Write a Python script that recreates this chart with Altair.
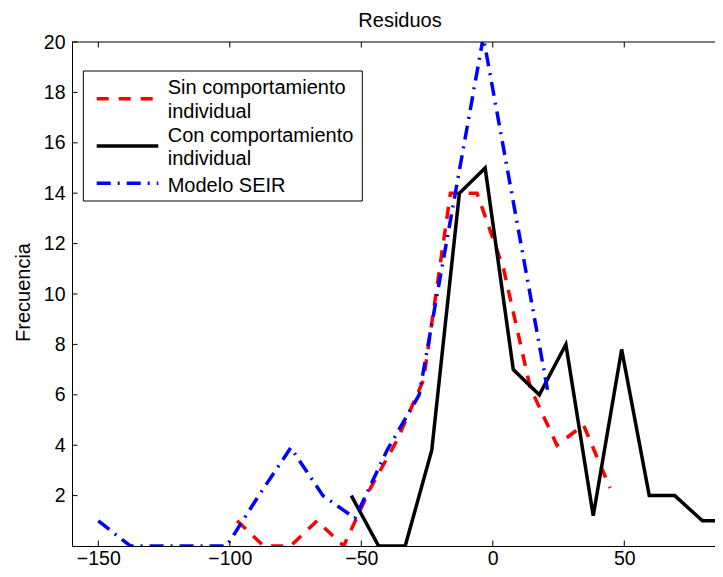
import altair as alt
import pandas as pd

# ---- data ----
x_sin = [-97.2, -87.1, -76.9, -66.8, -56.7, -46.5, -36.4, -26.3, -16.1, -6.0, 4.1, 14.2, 24.4, 34.5, 44.6]
y_sin = [1.0, 0, 0, 1.0, 0, 2.3, 4.2, 6.6, 14, 14, 11, 6.3, 4.0, 4.8, 2.3]

x_con = [-53.8, -43.4, -33.3, -23.2, -12.7, -2.9, 7.8, 17.7, 27.8, 38.2, 49.0, 59.5, 69.2, 79.7, 90.0]
y_con = [2, 0, 0, 3.8, 14, 15, 7, 6, 8, 1.2, 7.8, 2, 2, 1, 1]

x_seir = [-150, -137.8, -125.6, -113.4, -101.2, -89.0, -76.8, -64.6, -52.4, -40.2, -28.0, -15.8, -3.6, 8.6, 20.8]
y_seir = [1, 0, 0, 0, 0, 2, 3.9, 2, 1.1, 3.8, 6, 13.1, 20.2, 13.2, 6.2]

x_ticks = [-150, -100, -50, 0, 50]
y_ticks = [2, 4, 6, 8, 10, 12, 14, 16, 18, 20]

legend_labels = ["Sin comportamiento\nindividual", "Con comportamiento\nindividual", "Modelo SEIR"]
title_text = "Residuos"
ylabel_text = "Frecuencia"

W, H = 643, 504
FONT = "Liberation Sans"

xs = alt.Scale(domain=[-160, 84.5], nice=False, zero=False)
ys = alt.Scale(domain=[0, 20], nice=False, zero=False)

x_axis = alt.Axis(values=x_ticks, title=None, tickSize=0, labelPadding=3, grid=False,
                  labelFontSize=19.5, labelFont=FONT, labelColor="black",
                  domainColor="black", domainWidth=1)
y_axis = alt.Axis(values=y_ticks, title=ylabel_text, tickSize=0, labelPadding=7, grid=False,
                  labelFontSize=19.5, labelFont=FONT, labelColor="black",
                  domainColor="black", domainWidth=1,
                  titleFont=FONT, titleFontSize=20, titleFontWeight="normal", titleColor="black",
                  titleAngle=270, titleX=-43, titleY=H / 2 - 2, titleAlign="center",
                  titleBaseline="alphabetic")

df_sin = pd.DataFrame({"x": x_sin, "y": y_sin})
df_con = pd.DataFrame({"x": x_con, "y": y_con})
df_seir = pd.DataFrame({"x": x_seir, "y": y_seir})

red_dash = [12, 10]
blue_dash = [14, 7, 2, 7]
LW = 3.5

line_sin = alt.Chart(df_sin).mark_line(clip=True, color="#ff0000", strokeWidth=LW,
                                       strokeDash=red_dash, strokeCap="butt").encode(
    x=alt.X("x:Q", scale=xs, axis=x_axis),
    y=alt.Y("y:Q", scale=ys, axis=y_axis),
)
line_con = alt.Chart(df_con).mark_line(clip=True, color="#000000", strokeWidth=LW,
                                       strokeCap="butt").encode(
    x=alt.X("x:Q", scale=xs, axis=x_axis),
    y=alt.Y("y:Q", scale=ys, axis=y_axis),
)
line_seir = alt.Chart(df_seir).mark_line(clip=True, color="#0000ff", strokeWidth=LW,
                                         strokeDash=blue_dash, strokeCap="butt").encode(
    x=alt.X("x:Q", scale=xs, axis=x_axis),
    y=alt.Y("y:Q", scale=ys, axis=y_axis),
)

# inward ticks (MATLAB style)
df_xt = pd.DataFrame({"x": x_ticks})
df_yt = pd.DataFrame({"y": y_ticks})
TL = 5.5
xt_bottom = alt.Chart(df_xt).mark_rule(color="black", strokeWidth=1).encode(
    x=alt.X("x:Q", scale=xs, axis=x_axis), y=alt.value(H - TL), y2=alt.value(H))
xt_top = alt.Chart(df_xt).mark_rule(color="black", strokeWidth=1).encode(
    x=alt.X("x:Q", scale=xs, axis=x_axis), y=alt.value(0), y2=alt.value(TL))
yt_left = alt.Chart(df_yt).mark_rule(color="black", strokeWidth=1).encode(
    y=alt.Y("y:Q", scale=ys, axis=y_axis), x=alt.value(0), x2=alt.value(TL))

one = pd.DataFrame({"a": [0]})
top_border = alt.Chart(one).mark_rule(color="black", strokeWidth=1).encode(
    x=alt.value(0), x2=alt.value(W), y=alt.value(0))

title_mark = alt.Chart(one).mark_text(align="center", baseline="alphabetic", fontSize=20,
                                      font=FONT, color="black", text=title_text).encode(
    x=alt.value(328), y=alt.value(-15.3))

# legend box
leg_box = alt.Chart(one).mark_rect(fill="white", stroke="black", strokeWidth=1).encode(
    x=alt.value(11.3), x2=alt.value(290.3), y=alt.value(29), y2=alt.value(159))
leg_red = alt.Chart(one).mark_rule(color="#ff0000", strokeWidth=LW, strokeDash=red_dash,
                                   strokeCap="butt").encode(
    x=alt.value(24.7), x2=alt.value(86.3), y=alt.value(56.7))
leg_black = alt.Chart(one).mark_rule(color="#000000", strokeWidth=LW, strokeCap="butt").encode(
    x=alt.value(24.7), x2=alt.value(86.3), y=alt.value(104))
leg_blue = alt.Chart(one).mark_rule(color="#0000ff", strokeWidth=LW, strokeDash=blue_dash,
                                    strokeCap="butt").encode(
    x=alt.value(24.7), x2=alt.value(86.3), y=alt.value(141.3))

def leg_text(label, y):
    return alt.Chart(one).mark_text(align="left", baseline="alphabetic", fontSize=20, font=FONT,
                                    color="black", lineBreak="\n", lineHeight=23.5,
                                    text=label).encode(x=alt.value(95.7), y=alt.value(y))

t1 = leg_text(legend_labels[0], 52.3)
t2 = leg_text(legend_labels[1], 99.7)
t3 = leg_text(legend_labels[2], 150.3)

chart = alt.layer(
    line_sin, line_con, line_seir,
    xt_bottom, xt_top, yt_left, top_border, title_mark,
    leg_box, leg_red, leg_black, leg_blue, t1, t2, t3,
).properties(
    width=W, height=H,
    autosize=alt.AutoSizeParams(type="none"),
    padding={"left": 64, "top": 34, "right": 0, "bottom": 26},
    background="white",
).configure_view(stroke="transparent")

chart.save("out.html", embed_options={"renderer": "svg", "actions": False})
